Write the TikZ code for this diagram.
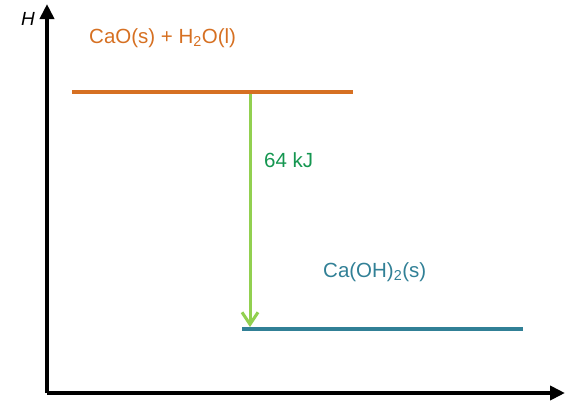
\documentclass[tikz,border=0pt]{standalone}
\usepackage{fontspec}
\setmainfont{Liberation Sans}
\usepackage{xcolor}
\usetikzlibrary{arrows.meta, positioning}

\definecolor{reactorange}{RGB}{214,112,34}
\definecolor{prodteal}{RGB}{49,128,150}
\definecolor{deltagreen}{RGB}{146,208,80}
\definecolor{labelgreen}{RGB}{20,150,80}

\begin{document}
\begin{tikzpicture}[
				x=1pt, y=-1pt,
				axis/.style={line width=4.5pt, -{Triangle[length=15pt, width=14pt]}},
				level/.style={line width=4.5pt},
				deltaarrow/.style={line width=3pt, draw=deltagreen, -{Straight Barb[length=12pt, width=16pt, line width=3pt]}},
				label/.style={font=\fontsize{20.5}{24}\selectfont, inner sep=0pt, anchor=west}
				]
				
				\useasboundingbox (0,0) rectangle (584,418);
				
				\coordinate (origin) at (47,393);
				\coordinate (ytop) at (47,4);
				\coordinate (xend) at (565,393);
				
				\coordinate (reactL) at (72,92);
				\coordinate (reactR) at (353,92);
				\coordinate (prodL) at (242,329);
				\coordinate (prodR) at (523,329);
				\coordinate (dtop) at (250,94);
				\coordinate (dbot) at (250,327);
				
				\node[label, font=\fontsize{19}{22}\selectfont\itshape] (hlabel) at (21,19) {H};
				\node[label, text=reactorange] (reactants) at (89,38) {CaO(s) + H\textsubscript{2}O(l)};
				\node[label, text=labelgreen] (enthalpy) at (264,160) {64 kJ};
				\node[label, text=prodteal] (products) at (323,272) {Ca(OH)\textsubscript{2}(s)};
				
				\draw[axis] (origin) -- (ytop);
				\draw[axis] (origin) -- (xend);
				
				\draw[level, draw=reactorange] (reactL) -- (reactR);
				\draw[level, draw=prodteal] (prodL) -- (prodR);
				
				\draw[deltaarrow] (dtop) -- (dbot);
				
			\end{tikzpicture}
\end{document}
